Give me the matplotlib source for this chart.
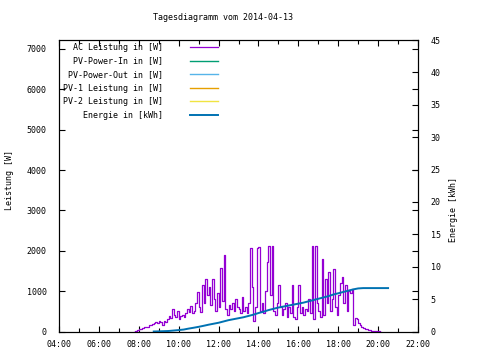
import matplotlib
matplotlib.use("Agg")
import matplotlib.pyplot as plt
import matplotlib.dates as mdates
import pandas as pd

plt.rcParams['font.family'] = ['DejaVu Sans Mono']

day = "2014-04-13"
title = "Tagesdiagramm vom 2014-04-13"

# AC Leistung [W], 5-minute readings from 07:45
ac_start = "07:45"
ac_watts = [
    0, 10, 30,
    50, 60, 80, 100, 110, 120, 150, 160, 180, 200, 230, 220,
    250, 230, 150, 260, 240, 300, 380, 330, 550, 420, 350, 500,
    300, 380, 420, 360, 470, 550, 480, 620, 450, 520, 700, 990,
    600, 480, 1150, 700, 1300, 900, 1100, 650, 1300, 800, 500, 950,
    600, 1570, 750, 1900, 550, 400, 650, 550, 700, 500, 800, 600,
    550, 450, 850, 500, 600, 450, 700, 2060, 1100, 250, 600, 2060,
    2090, 500, 700, 450, 1000, 1715, 2130, 900, 2130, 500, 400, 700,
    1140, 600, 400, 550, 700, 350, 600, 450, 1140, 350, 300, 600,
    1140, 450, 600, 400, 550, 500, 800, 450, 2130, 300, 2130, 700,
    500, 350, 1800, 400, 1300, 700, 1470, 500, 800, 1560, 600, 400,
    900, 1200, 1340, 700, 1140, 500, 1000, 950, 1050, 150, 330, 300,
    220, 150, 120, 90, 60, 70, 40, 30, 20, 20, 10, 10,
    5, 0, 0,
]

# Energie [kWh], 15-minute readings from 08:45
energy_start = "08:45"
energy_kwh = [
    0.0,
    0.02, 0.05, 0.08, 0.15,
    0.22, 0.30, 0.45, 0.58,
    0.72, 0.88, 1.05, 1.20,
    1.35, 1.55, 1.75, 1.90,
    2.05, 2.20, 2.40, 2.60,
    2.85, 3.05, 3.30, 3.50,
    3.70, 3.85, 4.00, 4.15,
    4.30, 4.45, 4.65, 4.85,
    5.05, 5.25, 5.45, 5.70,
    5.90, 6.10, 6.30, 6.50,
    6.65, 6.70, 6.70, 6.70,
    6.70, 6.70, 6.70,
]

ac_times = pd.date_range(f"{day} {ac_start}", periods=len(ac_watts), freq="5min")
energy_times = pd.date_range(f"{day} {energy_start}", periods=len(energy_kwh), freq="15min")

colors = {
    "ac": "#9400d3",
    "pv_in": "#009e73",
    "pv_out": "#56b4e9",
    "pv1": "#e69f00",
    "pv2": "#f0e442",
    "energy": "#0072b2",
}

fig = plt.figure(figsize=(4.8, 3.6), dpi=100)
ax = fig.add_axes([59 / 480, 1 - 331.5 / 360, 359 / 480, 291.5 / 360])
ax2 = ax.twinx()

fs = 6
h_ac, = ax.plot(ac_times, ac_watts, color=colors["ac"], lw=0.9,
                drawstyle="steps-post", label="AC Leistung in [W]")
# series without data on this day (legend only)
h_in, = ax.plot([], [], color=colors["pv_in"], lw=1.0, label="PV-Power-In in [W]")
h_out, = ax.plot([], [], color=colors["pv_out"], lw=1.0, label="PV-Power-Out in [W]")
h_p1, = ax.plot([], [], color=colors["pv1"], lw=1.0, label="PV-1 Leistung in [W]")
h_p2, = ax.plot([], [], color=colors["pv2"], lw=1.0, label="PV-2 Leistung in [W]")
h_e, = ax2.plot(energy_times, energy_kwh, color=colors["energy"], lw=1.4,
                label="Energie in [kWh]")

ax.set_xlim(pd.Timestamp(f"{day} 04:00"), pd.Timestamp(f"{day} 22:00"))
ax.set_ylim(0, 7220)
ax2.set_ylim(0, 45)
ax.set_yticks(range(0, 7001, 1000))
ax2.set_yticks(range(0, 46, 5))

ax.xaxis.set_major_locator(mdates.HourLocator(byhour=range(0, 24, 2)))
ax.xaxis.set_minor_locator(mdates.HourLocator(byhour=range(1, 24, 2)))
ax.xaxis.set_major_formatter(mdates.DateFormatter("%H:%M"))

ax.tick_params(axis="both", which="both", direction="in", labelsize=fs,
               top=True, right=True, labelright=False, length=4, width=0.8)
ax.tick_params(axis="x", which="major", pad=6)
ax.tick_params(axis="y", which="major", pad=9)
ax.tick_params(axis="x", which="minor", length=3)
ax2.tick_params(axis="y", direction="in", labelsize=fs, length=4, width=0.8, pad=9)

for a in (ax, ax2):
    for s in a.spines.values():
        s.set_linewidth(0.8)

fig.text(223 / 480, 1 - 18 / 360, title, ha="center", va="center", fontsize=fs)
fig.text(10 / 480, 1 - 180 / 360, "Leistung [W]", rotation=90,
         ha="center", va="center", fontsize=fs)
fig.text(453 / 480, 1 - 210 / 360, "Energie [kWh]", rotation=90,
         ha="center", va="center", fontsize=fs)

handles = [h_ac, h_in, h_out, h_p1, h_p2, h_e]
labels = [h.get_label().rjust(20) for h in handles]
fig.legend(handles, labels, loc="upper left", bbox_to_anchor=(63 / 480, 1 - 43 / 360),
           frameon=False, fontsize=fs, markerfirst=False, borderpad=0,
           borderaxespad=0, handlelength=3.4, handletextpad=3.2, labelspacing=0.55)

fig.savefig("out.png", dpi=100)
